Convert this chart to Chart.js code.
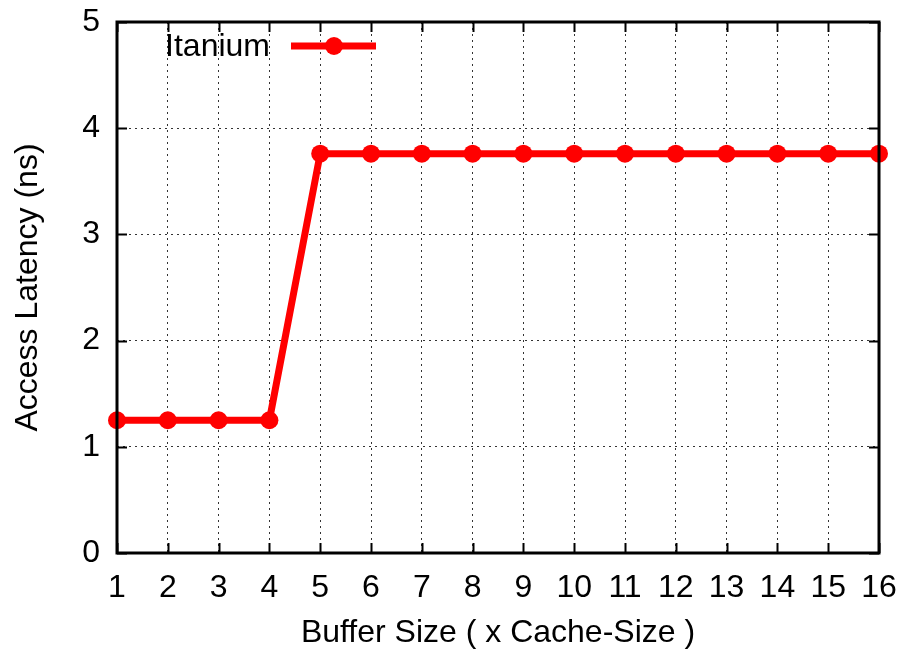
<!DOCTYPE html>
<html>
<head>
<meta charset="utf-8">
<script src="https://cdn.jsdelivr.net/npm/chart.js@4/dist/chart.umd.min.js"></script>
<style>
  html, body { margin: 0; padding: 0; background: #fff; }
  #wrap { width: 903px; height: 652px; }
</style>
</head>
<body>
<div id="wrap"><canvas id="latency-chart" width="903" height="652"></canvas></div>
<script>
const bufferSizes = [1, 2, 3, 4, 5, 6, 7, 8, 9, 10, 11, 12, 13, 14, 15, 16];
const itaniumLatency = [1.25, 1.25, 1.25, 1.25, 3.76, 3.76, 3.76, 3.76, 3.76, 3.76, 3.76, 3.76, 3.76, 3.76, 3.76, 3.76];
const yTicks = [0, 1, 2, 3, 4, 5];
const seriesName = "Itanium";

const font = "'Liberation Sans', Arial, sans-serif";
const fontSize = 32;

// gnuplot style frame: full border plus inward ticks on all four sides
const framePlugin = {
  id: "frame",
  afterDatasetsDraw(chart) {
    const { ctx, chartArea: a, scales } = chart;
    ctx.save();
    ctx.strokeStyle = "#000";
    ctx.lineWidth = 2;
    ctx.beginPath();
    bufferSizes.forEach((v) => {
      const x = Math.round(scales.x.getPixelForValue(v)) + 0.5;
      ctx.moveTo(x, a.bottom);
      ctx.lineTo(x, a.bottom - 10);
      ctx.moveTo(x, a.top);
      ctx.lineTo(x, a.top + 10);
    });
    yTicks.forEach((v) => {
      const y = Math.round(scales.y.getPixelForValue(v)) + 0.5;
      ctx.moveTo(a.left, y);
      ctx.lineTo(a.left + 10, y);
      ctx.moveTo(a.right, y);
      ctx.lineTo(a.right - 10, y);
    });
    ctx.stroke();
    ctx.lineWidth = 3;
    ctx.strokeRect(a.left, a.top, a.right - a.left, a.bottom - a.top);
    ctx.restore();
  },
  afterDraw(chart) {
    // legend, top-left inside the plot
    const { ctx } = chart;
    ctx.save();
    ctx.font = fontSize + "px " + font;
    ctx.fillStyle = "#000";
    ctx.textAlign = "right";
    ctx.textBaseline = "middle";
    ctx.fillText(seriesName, 270, 47);
    ctx.strokeStyle = "#ff0000";
    ctx.lineWidth = 7;
    ctx.beginPath();
    ctx.moveTo(291, 46);
    ctx.lineTo(376, 46);
    ctx.stroke();
    ctx.fillStyle = "#ff0000";
    ctx.beginPath();
    ctx.arc(334, 46, 9, 0, Math.PI * 2);
    ctx.fill();
    ctx.restore();
  },
};

new Chart(document.getElementById("latency-chart"), {
  type: "line",
  data: {
    datasets: [
      {
        label: seriesName,
        data: bufferSizes.map((x, i) => ({ x, y: itaniumLatency[i] })),
        borderColor: "#ff0000",
        backgroundColor: "#ff0000",
        borderWidth: 7,
        pointRadius: 9,
        pointHoverRadius: 9,
        pointBorderWidth: 0,
        clip: false,
        tension: 0,
      },
    ],
  },
  options: {
    responsive: false,
    animation: false,
    layout: { padding: { top: 22, right: 24, left: 8, bottom: 0 } },
    plugins: { legend: { display: false }, tooltip: { enabled: false } },
    scales: {
      x: {
        type: "linear",
        min: 1,
        max: 16,
        afterBuildTicks(scale) {
          scale.ticks = bufferSizes.map((v) => ({ value: v }));
        },
        afterFit(scale) {
          scale.height = 99;
          scale.paddingLeft = 0;
          scale.paddingRight = 0;
        },
        border: { display: false, dash: [2, 4] },
        grid: {
          color: "rgba(0,0,0,0.8)",
          lineWidth: 1,
          drawTicks: false,
        },
        ticks: {
          color: "#000",
          font: { family: font, size: fontSize },
          padding: 16,
          maxRotation: 0,
          autoSkip: false,
        },
        title: {
          display: true,
          text: "Buffer Size ( x Cache-Size )",
          color: "#000",
          font: { family: font, size: fontSize },
          padding: { top: 4, bottom: 0 },
        },
      },
      y: {
        min: 0,
        max: 5,
        afterBuildTicks(scale) {
          scale.ticks = yTicks.map((v) => ({ value: v }));
        },
        afterFit(scale) {
          scale.width = 109;
          scale.paddingTop = 0;
          scale.paddingBottom = 0;
        },
        border: { display: false, dash: [2, 4] },
        grid: {
          color: "rgba(0,0,0,0.8)",
          lineWidth: 1,
          drawTicks: false,
        },
        ticks: {
          color: "#000",
          font: { family: font, size: fontSize },
          padding: 17,
        },
        title: {
          display: true,
          text: "Access Latency (ns)",
          color: "#000",
          font: { family: font, size: fontSize },
          padding: { top: 1, bottom: 0 },
        },
      },
    },
  },
  plugins: [framePlugin],
});
</script>
</body>
</html>
